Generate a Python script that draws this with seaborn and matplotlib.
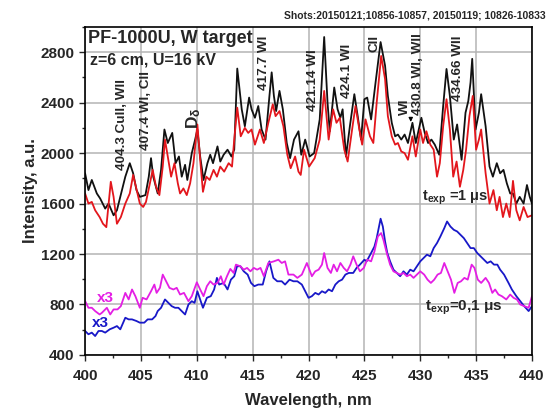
import numpy as np
import pandas as pd
import matplotlib
matplotlib.use("Agg")
import matplotlib.pyplot as plt
import seaborn as sns

# texp = 1 us, two shot series (black, red)
wl_black = [400.0, 400.3, 400.6, 401.05, 401.35, 401.8, 402.1, 402.55, 402.85, 403.3,
            403.6, 404.0, 404.3, 404.6, 404.9, 405.4, 405.7, 405.9, 406.1, 406.5,
            406.8, 407.1, 407.4, 407.8, 408.1, 408.4, 408.65, 408.95, 409.15, 409.55,
            409.85, 410.05, 410.3, 410.6, 410.95, 411.2, 411.45, 411.85, 412.1, 412.4,
            412.75, 413.1, 413.35, 413.62, 414.02, 414.3, 414.68, 414.9, 415.2, 415.5,
            415.8, 416.15, 416.5, 416.7, 416.9, 417.1, 417.4, 417.7, 418.05, 418.35,
            418.7, 419.1, 419.35, 419.7, 420.1, 420.5, 421.0, 421.4, 421.7, 421.9,
            422.3, 422.6, 422.85, 423.05, 423.35, 423.7, 424.1, 424.4, 424.7, 425.0,
            425.25, 425.6, 426.0, 426.45, 426.85, 427.1, 427.45, 427.75, 428.0, 428.3,
            428.6, 428.9, 429.3, 429.6, 430.1, 430.4, 430.7, 431.0, 431.3, 431.7,
            432.05, 432.35, 432.65, 433.0, 433.3, 433.7, 434.05, 434.3, 434.5, 434.65,
            434.95, 435.25, 435.45, 435.85, 436.2, 436.5, 436.85, 437.15, 437.45, 437.75,
            438.05, 438.3, 438.6, 438.9, 439.25, 439.55, 439.8, 440.0]
int_black = [1840, 1707, 1787, 1680, 1640, 1560, 1600, 1507, 1547, 1707,
             1813, 1920, 1840, 1707, 1653, 1667, 1813, 1960, 1813, 1680,
             1867, 2187, 2080, 2160, 1920, 1973, 1813, 1907, 1787, 2000,
             2107, 2187, 1973, 1787, 1920, 1987, 1920, 2053, 1933, 1987,
             2027, 1973, 2027, 2670, 2347, 2213, 2440, 2347, 2280, 2373,
             2187, 2107, 2453, 2640, 2453, 2333, 2493, 2347, 2080, 1960,
             2107, 2173, 1987, 2107, 1973, 2000, 2267, 2920, 2400, 2173,
             2520, 2347, 2280, 2347, 1973, 2213, 2467, 2293, 2107, 2427,
             2440, 2267, 2560, 2880, 2693, 2453, 2240, 2133, 2147, 2107,
             2147, 2080, 2240, 2080, 2280, 2160, 2080, 2107, 2067, 1987,
             2373, 2667, 2453, 2107, 2227, 1947, 2320, 2413, 2560, 2747,
             2187, 2320, 2467, 2213, 1893, 1813, 1920, 1840, 1867, 1760,
             1680, 1680, 1600, 1653, 1600, 1747, 1653, 1600]

wl_red = [400.0, 400.3, 400.6, 400.9, 401.3, 401.6, 401.9, 402.3, 402.55, 402.85,
          403.2, 403.6, 404.0, 404.3, 404.55, 404.9, 405.2, 405.45, 405.8, 406.05,
          406.35, 406.65, 406.95, 407.15, 407.4, 407.7, 408.0, 408.3, 408.5, 408.8,
          409.1, 409.4, 409.7, 410.05, 410.3, 410.55, 410.85, 411.15, 411.5, 411.8,
          412.1, 412.45, 412.85, 413.15, 413.35, 413.62, 413.93, 414.3, 414.6, 414.9,
          415.2, 415.65, 416.0, 416.4, 416.8, 417.05, 417.4, 417.75, 418.1, 418.4,
          418.8, 419.1, 419.3, 419.6, 420.05, 420.55, 421.0, 421.4, 421.8, 422.2,
          422.5, 422.8, 423.2, 423.5, 423.9, 424.2, 424.55, 424.8, 425.1, 425.5,
          425.8, 426.1, 426.5, 426.85, 427.1, 427.45, 427.75, 428.0, 428.3, 428.6,
          428.9, 429.3, 429.6, 430.0, 430.25, 430.55, 430.9, 431.2, 431.5, 431.75,
          432.05, 432.35, 432.65, 432.95, 433.25, 433.55, 433.85, 434.1, 434.4, 434.7,
          435.0, 435.25, 435.45, 435.85, 436.2, 436.55, 436.85, 437.1, 437.4, 437.7,
          438.0, 438.3, 438.6, 438.9, 439.25, 439.6, 440.0]
int_red = [1680, 1600, 1613, 1547, 1493, 1440, 1413, 1773, 1653, 1440,
           1493, 1600, 1680, 1827, 1733, 1600, 1573, 1613, 1760, 1867,
           1733, 1667, 1893, 2107, 1973, 1813, 1920, 1760, 1680, 1720,
           1667, 1760, 1920, 2227, 1947, 1693, 1813, 1787, 1867, 1813,
           1893, 1853, 1920, 1893, 2107, 2360, 2133, 2200, 2160, 2187,
           2067, 2187, 2080, 2240, 2387, 2293, 2333, 2213, 1987, 1880,
           1973, 1853, 1827, 2027, 1893, 1960, 2107, 2493, 2107, 2347,
           2240, 2280, 2027, 1933, 2187, 2373, 2187, 2067, 2267, 2133,
           2080, 2400, 2770, 2587, 2293, 2133, 2067, 2080, 2013, 2000,
           1947, 2133, 1973, 2187, 2080, 2173, 2067, 2027, 1813, 1920,
           2213, 2427, 2187, 1813, 1933, 1733, 1867, 2027, 2293, 2453,
           2027, 2107, 2187, 1840, 1600, 1707, 1547, 1653, 1493, 1600,
           1493, 1780, 1547, 1467, 1573, 1493, 1507]

# texp = 0.1 us, multiplied by 3 (magenta, blue)
wl_mag = [400.0, 400.3, 400.6, 400.9, 401.3, 401.5, 401.95, 402.25, 402.55, 402.9,
          403.2, 403.6, 403.9, 404.2, 404.5, 404.9, 405.15, 405.5, 405.9, 406.2,
          406.4, 406.7, 406.95, 407.25, 407.55, 407.9, 408.2, 408.5, 408.85, 409.25,
          409.55, 410.0, 410.3, 410.6, 410.9, 411.2, 411.5, 411.85, 412.15, 412.4,
          412.7, 413.0, 413.3, 413.5, 413.9, 414.2, 414.5, 414.8, 415.1, 415.4,
          415.7, 416.0, 416.4, 416.9, 417.3, 417.6, 417.9, 418.2, 418.65, 419.0,
          419.4, 419.85, 420.3, 420.6, 420.9, 421.2, 421.4, 421.7, 422.0, 422.25,
          422.55, 422.85, 423.15, 423.45, 423.75, 424.0, 424.3, 424.6, 424.95, 425.25,
          425.6, 425.9, 426.2, 426.5, 426.7, 427.0, 427.3, 427.6, 427.9, 428.2,
          428.5, 428.8, 429.1, 429.4, 429.7, 430.0, 430.35, 430.65, 430.95, 431.25,
          431.55, 431.85, 432.15, 432.45, 432.75, 433.05, 433.35, 433.65, 433.95, 434.25,
          434.6, 434.85, 435.15, 435.45, 435.85, 436.15, 436.45, 436.7, 437.0, 437.3,
          437.7, 438.05, 438.35, 438.65, 438.95, 439.3, 439.7, 440.0]
int_mag = [827, 774, 774, 748, 721, 734, 774, 721, 761, 761,
           787, 892, 840, 919, 866, 774, 853, 840, 905, 958,
           892, 932, 1037, 984, 932, 919, 932, 879, 892, 826,
           866, 976, 919, 866, 945, 984, 958, 971, 1024, 958,
           1024, 1082, 1050, 1116, 1103, 1076, 1090, 1063, 1090, 1076,
           1090, 1024, 1129, 1142, 1155, 1129, 1142, 1037, 1037, 1011,
           1037, 1129, 1024, 1063, 1076, 1116, 1208, 1090, 1050, 1116,
           1063, 1129, 1090, 1063, 1116, 1182, 1116, 1063, 1090, 1155,
           1142, 1221, 1339, 1366, 1313, 1208, 1116, 1063, 1050, 1037,
           1050, 1024, 1037, 1011, 1037, 1063, 1037, 997, 971, 997,
           1037, 1050, 1129, 1063, 997, 892, 971, 984, 1011, 997,
           1116, 1090, 997, 971, 1011, 971, 892, 919, 879, 866,
           840, 879, 853, 840, 800, 787, 774, 866]

wl_blue = [400.0, 400.3, 400.6, 400.9, 401.2, 401.5, 401.8, 402.2, 402.55, 402.85,
           403.15, 403.6, 403.9, 404.2, 404.6, 404.9, 405.3, 405.6, 406.0, 406.3,
           406.5, 406.8, 407.15, 407.45, 407.75, 408.05, 408.35, 408.65, 408.95, 409.25,
           409.55, 409.8, 410.05, 410.3, 410.55, 410.9, 411.25, 411.55, 411.8, 412.0,
           412.4, 412.75, 413.05, 413.35, 413.6, 413.9, 414.2, 414.55, 414.85, 415.15,
           415.5, 415.9, 416.2, 416.5, 416.85, 417.2, 417.6, 417.9, 418.3, 418.65,
           419.0, 419.4, 419.7, 420.0, 420.3, 420.6, 420.9, 421.2, 421.5, 421.8,
           422.1, 422.4, 422.7, 423.0, 423.3, 423.6, 424.0, 424.3, 424.6, 425.0,
           425.2, 425.6, 425.9, 426.1, 426.45, 426.65, 426.85, 427.05, 427.3, 427.6,
           427.9, 428.2, 428.5, 428.8, 429.1, 429.4, 429.7, 430.0, 430.3, 430.6,
           430.9, 431.2, 431.5, 431.8, 432.15, 432.4, 432.7, 433.0, 433.3, 433.6,
           433.9, 434.2, 434.5, 434.8, 435.1, 435.4, 435.7, 436.0, 436.3, 436.6,
           436.9, 437.15, 437.5, 437.9, 438.2, 438.6, 438.95, 439.3, 439.7, 440.0]
int_blue = [590, 564, 577, 550, 590, 590, 577, 603, 616, 629,
            603, 695, 682, 682, 669, 656, 656, 682, 682, 708,
            748, 774, 840, 813, 787, 774, 774, 748, 721, 800,
            826, 813, 905, 840, 774, 853, 866, 919, 1011, 958,
            971, 919, 997, 1024, 1103, 1103, 1063, 1037, 971, 945,
            958, 958, 1063, 1142, 1011, 984, 984, 958, 997, 984,
            984, 958, 905, 853, 866, 892, 879, 905, 892, 919,
            905, 958, 984, 997, 1037, 1050, 1050, 1090, 1116, 1155,
            1142, 1208, 1260, 1326, 1480, 1418, 1300, 1208, 1142, 1076,
            1050, 1024, 1063, 1037, 1076, 1063, 1103, 1142, 1168, 1195,
            1182, 1247, 1287, 1339, 1405, 1458, 1418, 1392, 1379, 1352,
            1326, 1287, 1247, 1247, 1208, 1182, 1155, 1129, 1142, 1116,
            1116, 1076, 1037, 971, 919, 866, 826, 787, 748, 787]

series_names = ["black", "red", "blue", "magenta"]
series_colors = ["#111111", "#e3161c", "#1818c8", "#e41ee4"]

# spectral line labels: (wavelength, intensity at bottom of label, text, size)
line_wl = [403.3, 405.45, 409.75, 416.0, 420.4, 423.4, 425.9, 428.6, 429.8, 433.4]
line_base = [1865, 2025, 2190, 2500, 2330, 2435, 2805, 2300, 2300, 2410]
line_text = ["404.3 CuII, WII", "407.4 WI, CII", r"D$_\delta$", "417.7 WI",
             "421.14 WI", "424.1 WI", "CII", "WI", "430.8 WI, WII", "434.66 WII"]
line_size = [9.7, 9.7, 12.5, 9.7, 9.7, 9.7, 9.7, 9.7, 9.7, 9.7]

sns.set_style("white")
plt.rcParams["font.family"] = ["Liberation Sans", "DejaVu Sans"]
plt.rcParams["font.weight"] = "bold"
plt.rcParams["mathtext.fontset"] = "custom"
plt.rcParams["mathtext.rm"] = "Liberation Sans:bold"
plt.rcParams["mathtext.it"] = "Liberation Sans:bold"

frames = []
for name, wl, val in zip(series_names,
                         [wl_black, wl_red, wl_blue, wl_mag],
                         [int_black, int_red, int_blue, int_mag]):
    frames.append(pd.DataFrame({"wl": wl, "intensity": val, "series": name}))
df = pd.concat(frames, ignore_index=True)

fig = plt.figure(figsize=(5.49, 4.08), dpi=100)
ax = fig.add_axes([0.155, 0.130, 0.814, 0.804])

for name, color in zip(series_names, series_colors):
    sub = df[df["series"] == name]
    sns.lineplot(data=sub, x="wl", y="intensity", color=color, lw=1.3,
                 sort=False, estimator=None, ax=ax, legend=False)

ax.set_xlim(400, 440)
ax.set_ylim(400, 3000)
ax.set_xticks(np.arange(400, 441, 5))
ax.set_yticks(np.arange(400, 2801, 400))
ax.set_xticks(np.arange(400, 441, 2.5), minor=True)
ax.set_yticks(np.arange(400, 3001, 200), minor=True)
ax.grid(True, which="major", color="#b4b4b4", lw=1.1)
ax.tick_params(axis="both", which="major", labelsize=11, length=4, width=1,
               direction="out", bottom=True, left=True)
ax.tick_params(axis="x", which="major", pad=6)
ax.tick_params(axis="both", which="minor", length=2.5, width=1,
               direction="out", bottom=True, left=True)
for s in ax.spines.values():
    s.set_color("black")
    s.set_linewidth(1.2)
ax.set_xlabel("Wavelength, nm", fontsize=12, fontweight="bold", labelpad=7)
ax.set_ylabel("Intensity, a.u.", fontsize=12, fontweight="bold", labelpad=2)

ax.text(400.3, 2911, "PF-1000U, W target", fontsize=13, fontweight="bold",
        va="center", ha="left")
ax.text(400.4, 2737, "z=6 cm, U=16 kV", fontsize=11.5, fontweight="bold",
        va="center", ha="left")
fig.text(0.993, 0.975, "Shots:20150121;10856-10857, 20150119; 10826-10833",
         fontsize=7.5, fontweight="bold", ha="right", va="top")

for x, y, label, size in zip(line_wl, line_base, line_text, line_size):
    ax.text(x, y, label, rotation=90, fontsize=size, fontweight="bold",
            ha="center", va="bottom")
ax.annotate("", xy=(429.15, 2225), xytext=(429.15, 2300),
            arrowprops=dict(arrowstyle="-|>", color="black", lw=0.8,
                            mutation_scale=6))

ax.text(430.2, 1643, r"t$_{\mathrm{exp}}$ =1 $\mu$s", fontsize=10.5, fontweight="bold",
        ha="left", va="center")
ax.text(430.4, 772, r"t$_{\mathrm{exp}}$=0,1 $\mu$s", fontsize=11, fontweight="bold",
        ha="left", va="center")
ax.text(401.05, 851, "x3", color=series_colors[3], fontsize=11, fontweight="bold",
        ha="left", va="center")
ax.text(400.6, 653, "x3", color=series_colors[2], fontsize=11, fontweight="bold",
        ha="left", va="center")

fig.savefig("out.png", dpi=100)
